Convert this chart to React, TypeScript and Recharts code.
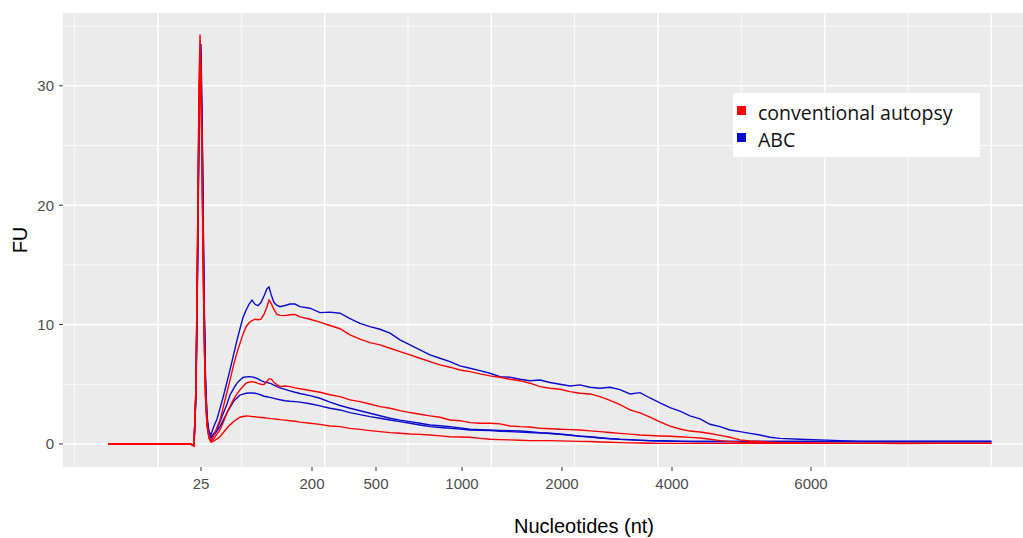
import * as React from "react";
import { LineChart, Line, XAxis, YAxis, CartesianGrid, Legend } from "recharts";

const RED = "#FF0000";
const BLUE = "#0A0ACD";
const FONT = '"Liberation Sans", Arial, sans-serif';

// elution time (s); labelled ladder positions below
const TIME = [
  17.0, 18.32, 19.52, 20.72, 21.92, 22.16, 22.28, 22.37, 22.46, 22.52, 22.58, 22.67, 22.76, 22.85, 22.94, 23.06, 23.18,
  23.36, 23.54, 23.72, 23.9, 24.14, 24.32, 24.56, 24.74, 24.92, 25.1, 25.28, 25.46, 25.64, 25.82, 26.0, 26.18, 26.36,
  26.54, 26.66, 26.78, 26.96, 27.14, 27.32, 27.62, 27.92, 28.22, 28.52, 29.12, 29.72, 30.32, 30.92,
  31.52, 32.12, 32.72, 33.32, 33.92, 34.52, 35.12, 35.72, 36.32, 36.92, 37.52, 38.12, 38.72, 39.32, 39.92, 40.52,
  41.12, 41.72, 42.32, 42.92, 43.52, 44.12, 44.72, 45.32, 45.92, 46.52, 47.12, 47.72, 48.32, 48.92, 49.52, 50.12,
  50.72, 51.32, 51.92, 52.52, 53.12, 53.72, 54.32, 54.92, 55.52, 56.12, 56.72, 57.32,
  58.52, 59.72, 60.92, 62.12, 63.32, 64.52, 66.92, 70.0,
];

// conventional autopsy samples (FU)
const CA_1 = [
  0, 0.02, -0.02, 0.03, 0, -0.2, 5.0, 17, 30, 34.3, 31.5, 20.5, 10, 4.2, 1.8, 0.6, 0.25,
  0.75, 1.4, 2.0, 3.0, 4.35, 5.35, 6.75, 7.65, 8.44, 9.2, 9.8, 10.15, 10.33, 10.45, 10.4, 10.45, 10.85,
  11.5, 12.05, 11.8, 11.25, 10.85, 10.77, 10.75, 10.82, 10.85, 10.65, 10.45, 10.2, 9.92, 9.65,
  9.14, 8.78, 8.49, 8.3, 8.02, 7.74, 7.46, 7.18, 6.9, 6.62, 6.43, 6.2, 6.06, 5.87, 5.7, 5.59,
  5.42, 5.3, 5.09, 4.8, 4.67, 4.58, 4.38, 4.25, 4.19, 3.96, 3.65, 3.3, 2.85, 2.6, 2.25, 1.85,
  1.5, 1.25, 1.08, 1.0, 0.88, 0.72, 0.56, 0.34, 0.25, 0.2, 0.15, 0.11,
  0.08, 0.06, 0.05, 0.05, 0.05, 0.04, 0.05, 0.05,
];
const CA_2 = [
  0, -0.02, 0.02, 0, 0.02, -0.15, 4.8, 16.5, 29, 33.0, 30.5, 20, 9.8, 4.0, 1.6, 0.5, 0.2,
  0.45, 0.85, 1.17, 1.75, 2.62, 3.15, 3.8, 4.2, 4.53, 4.82, 5.1, 5.17, 5.22, 5.17, 5.08, 5.0, 4.98,
  5.25, 5.45, 5.45, 5.17, 4.95, 4.8, 4.85, 4.8, 4.7, 4.63, 4.48, 4.33, 4.12, 3.96,
  3.69, 3.55, 3.35, 3.13, 2.99, 2.79, 2.63, 2.49, 2.35, 2.24, 2.01, 1.95, 1.79, 1.73, 1.73, 1.68,
  1.51, 1.45, 1.42, 1.31, 1.27, 1.23, 1.2, 1.17, 1.1, 1.03, 0.96, 0.89, 0.82, 0.75, 0.71, 0.67,
  0.64, 0.61, 0.55, 0.5, 0.4, 0.28, 0.2, 0.15, 0.12, 0.1, 0.08, 0.07,
  0.05, 0.05, 0.05, 0.05, 0.05, 0.05, 0.05, 0.05,
];
const CA_3 = [
  0, 0.01, 0, -0.02, 0.01, -0.15, 4.5, 15.8, 28, 31.8, 29.5, 19.5, 9.5, 3.9, 1.5, 0.5, 0.15,
  0.25, 0.42, 0.61, 0.92, 1.33, 1.6, 1.9, 2.08, 2.24, 2.3, 2.34, 2.33, 2.3, 2.28, 2.25, 2.22, 2.19,
  2.16, 2.14, 2.12, 2.1, 2.07, 2.04, 2.0, 1.95, 1.9, 1.83, 1.74, 1.64, 1.51, 1.45,
  1.31, 1.22, 1.12, 1.03, 0.95, 0.9, 0.84, 0.8, 0.75, 0.68, 0.61, 0.58, 0.56, 0.47, 0.39, 0.36,
  0.34, 0.31, 0.28, 0.28, 0.28, 0.26, 0.24, 0.22, 0.2, 0.17, 0.14, 0.11, 0.09, 0.08, 0.06, 0.05,
  0.05, 0.05, 0.05, 0.05, 0.05, 0.05, 0.05, 0.05, 0.05, 0.05, 0.05, 0.05,
  0.05, 0.05, 0.05, 0.05, 0.05, 0.05, 0.05, 0.05,
];

// ABC samples (FU)
const ABC_1 = [
  0, 0.02, 0, 0.02, -0.01, -0.1, 4.5, 15, 27.5, 32.5, 33.5, 24.5, 13, 5.5, 2.4, 1.0, 0.8,
  1.5, 2.09, 2.98, 3.87, 5.2, 6.2, 7.63, 8.7, 9.65, 10.6, 11.2, 11.7, 12.05, 11.7, 11.58, 11.85, 12.4,
  13.0, 13.15, 12.55, 11.85, 11.6, 11.5, 11.6, 11.72, 11.72, 11.5, 11.37, 11.0, 11.04, 10.95,
  10.5, 10.1, 9.83, 9.61, 9.28, 8.72, 8.3, 7.88, 7.46, 7.18, 6.9, 6.54, 6.34, 6.14, 5.92, 5.64,
  5.59, 5.42, 5.3, 5.36, 5.15, 5.0, 4.85, 4.95, 4.75, 4.67, 4.75, 4.55, 4.19, 4.3, 3.85, 3.45,
  3.05, 2.75, 2.35, 2.1, 1.65, 1.45, 1.17, 1.03, 0.89, 0.75, 0.56, 0.47,
  0.39, 0.34, 0.28, 0.22, 0.2, 0.2, 0.2, 0.2,
];
const ABC_2 = [
  0, -0.01, 0.02, 0, 0.01, -0.1, 4.3, 14.5, 27, 31.8, 32.8, 24, 12.5, 5.2, 2.1, 0.9, 0.6,
  0.9, 1.2, 1.87, 2.5, 3.35, 4.1, 4.7, 5.1, 5.35, 5.57, 5.62, 5.64, 5.62, 5.55, 5.45, 5.3, 5.2,
  5.15, 5.1, 5.05, 4.92, 4.8, 4.7, 4.57, 4.45, 4.33, 4.23, 4.05, 3.83, 3.5, 3.22,
  2.99, 2.78, 2.57, 2.36, 2.15, 2.0, 1.87, 1.73, 1.59, 1.52, 1.45, 1.34, 1.23, 1.2, 1.17, 1.14,
  1.12, 1.08, 1.03, 0.95, 0.9, 0.83, 0.75, 0.66, 0.6, 0.52, 0.45, 0.39, 0.36, 0.32, 0.28, 0.27,
  0.25, 0.23, 0.22, 0.21, 0.2, 0.2, 0.2, 0.2, 0.2, 0.2, 0.2, 0.2,
  0.2, 0.2, 0.2, 0.2, 0.2, 0.2, 0.2, 0.2,
];
const ABC_3 = [
  0, 0.01, -0.01, 0.02, 0, -0.1, 4.0, 14, 26, 30.5, 31.0, 23, 12, 5.0, 2.0, 0.8, 0.5,
  0.75, 1.1, 1.45, 1.95, 2.6, 3.05, 3.62, 3.85, 4.1, 4.18, 4.25, 4.27, 4.27, 4.25, 4.2, 4.1, 4.0,
  3.95, 3.92, 3.88, 3.82, 3.76, 3.7, 3.62, 3.58, 3.55, 3.5, 3.37, 3.19, 2.99, 2.85,
  2.63, 2.46, 2.29, 2.15, 2.01, 1.87, 1.73, 1.59, 1.45, 1.38, 1.31, 1.24, 1.17, 1.14, 1.12, 1.07,
  1.03, 0.99, 0.95, 0.92, 0.88, 0.8, 0.73, 0.65, 0.58, 0.5, 0.44, 0.38, 0.34, 0.3, 0.27, 0.25,
  0.23, 0.22, 0.21, 0.2, 0.2, 0.2, 0.2, 0.2, 0.2, 0.2, 0.2, 0.2,
  0.2, 0.2, 0.2, 0.2, 0.2, 0.2, 0.2, 0.2,
];

// ladder marks on the time axis
const TICK_POS = [22.58, 29.24, 33.08, 38.24, 44.24, 50.84, 59.18];
const TICK_LABELS = ["25", "200", "500", "1000", "2000", "4000", "6000"];
const X_MAJOR = [20, 30, 40, 50, 60, 70];
const X_MINOR = [15, 25, 35, 45, 55, 65];
const Y_TICKS = [0, 10, 20, 30];
const Y_MINOR = [5, 15, 25, 35];

const LEGEND_NAMES = ["conventional autopsy", "ABC"];
const LEGEND_COLORS = [RED, BLUE];

const rows = TIME.map((t, i) => ({
  t,
  ca1: CA_1[i],
  ca2: CA_2[i],
  ca3: CA_3[i],
  abc1: ABC_1[i],
  abc2: ABC_2[i],
  abc3: ABC_3[i],
}));

function LegendBox() {
  return (
    <div
      style={{
        background: "#fff",
        width: 247,
        height: 64,
        boxSizing: "border-box",
        paddingTop: 6,
        fontFamily: '"Open Sans", sans-serif',
        fontSize: 19.5,
        color: "#111",
      }}
    >
      {LEGEND_NAMES.map((name, i) => (
        <div key={name} style={{ position: "relative", height: 27, lineHeight: "27px", paddingLeft: 25 }}>
          <span
            style={{ position: "absolute", left: 4, top: 7, width: 9, height: 9, background: LEGEND_COLORS[i] }}
          />
          {name}
        </div>
      ))}
    </div>
  );
}

export default function App() {
  const tickStyle = { fill: "#4D4D4D", fontSize: 15, fontFamily: FONT };
  return (
    <div style={{ position: "absolute", left: 0, top: 0, width: 1023, height: 538, background: "#fff" }}>
      <LineChart width={1023} height={538} data={rows} margin={{ top: 13, right: 0, bottom: 0, left: 0 }}>
        <CartesianGrid
          fill="#EBEBEB"
          stroke="#FFFFFF"
          strokeWidth={0.8}
          verticalValues={X_MINOR}
          horizontalValues={Y_MINOR}
        />
        <CartesianGrid
          stroke="#FFFFFF"
          strokeWidth={1.6}
          verticalValues={X_MAJOR}
          horizontalValues={Y_TICKS}
        />
        <XAxis
          dataKey="t"
          type="number"
          domain={[14.3, 71.9]}
          allowDataOverflow
          ticks={TICK_POS}
          tickFormatter={(v: number) => TICK_LABELS[TICK_POS.indexOf(v)] ?? ""}
          interval={0}
          height={71}
          axisLine={false}
          tickLine={{ stroke: "#333333" }}
          tickSize={4}
          tickMargin={7}
          tick={tickStyle}
          label={(p: any) => (
            <text
              x={p.viewBox.x + p.viewBox.width / 2 + 41}
              y={p.viewBox.y + p.viewBox.height - 5}
              textAnchor="middle"
              fontSize={20}
              fontFamily={FONT}
              fill="#000"
            >
              Nucleotides (nt)
            </text>
          )}
        />
        <YAxis
          type="number"
          domain={[-1.93, 36.1]}
          allowDataOverflow
          ticks={Y_TICKS}
          interval={0}
          width={63}
          axisLine={false}
          tickLine={{ stroke: "#333333" }}
          tickSize={4}
          tickMargin={5}
          tick={tickStyle}
          label={(p: any) => (
            <text
              x={20}
              y={p.viewBox.y + p.viewBox.height / 2}
              transform={`rotate(-90 20 ${p.viewBox.y + p.viewBox.height / 2})`}
              textAnchor="middle"
              dominantBaseline="central"
              fontSize={20}
              fontFamily={FONT}
              fill="#000"
            >
              FU
            </text>
          )}
        />
        <Legend
          layout="vertical"
          align="center"
          verticalAlign="middle"
          content={() => <LegendBox />}
          wrapperStyle={{ left: 733, top: 93, width: 247, height: 64 }}
        />
        <Line dataKey="abc1" stroke={BLUE} strokeWidth={1.4} dot={false} isAnimationActive={false} />
        <Line dataKey="abc2" stroke={BLUE} strokeWidth={1.4} dot={false} isAnimationActive={false} />
        <Line dataKey="abc3" stroke={BLUE} strokeWidth={1.4} dot={false} isAnimationActive={false} />
        <Line dataKey="ca1" stroke={RED} strokeWidth={1.4} dot={false} isAnimationActive={false} />
        <Line dataKey="ca2" stroke={RED} strokeWidth={1.4} dot={false} isAnimationActive={false} />
        <Line dataKey="ca3" stroke={RED} strokeWidth={1.4} dot={false} isAnimationActive={false} />
      </LineChart>
    </div>
  );
}
